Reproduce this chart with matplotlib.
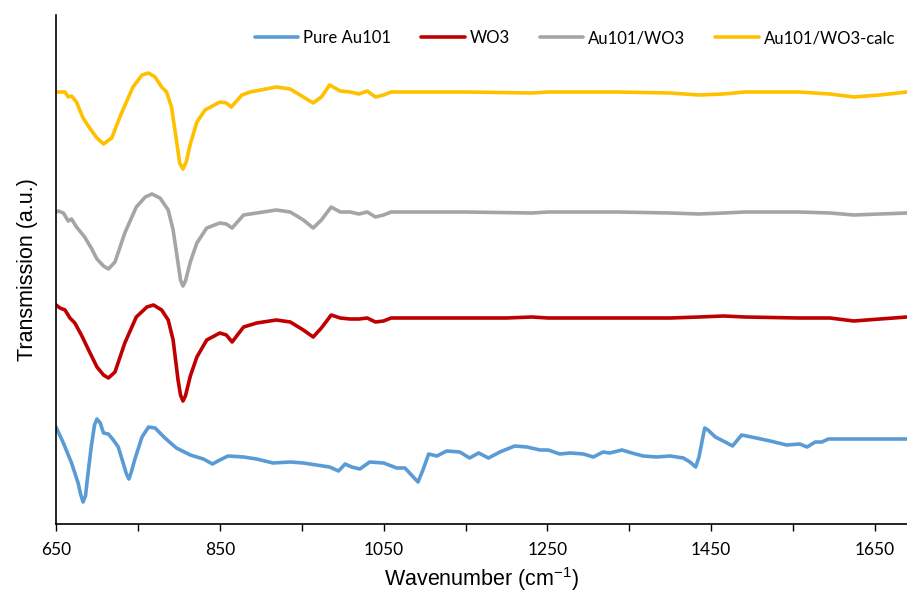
import matplotlib
matplotlib.use("Agg")
import matplotlib.pyplot as plt
import numpy as np

# spectra (wavenumber in cm-1, transmission in a.u., stacked with offsets)
wn_calc = [650, 657, 661, 665, 669, 675, 683, 691, 700, 708, 718, 730, 744, 755, 763, 771, 779, 785,
           791, 797, 801, 805, 809, 814, 822, 832, 850, 858, 864, 877, 887, 919, 936, 952, 964, 974,
           984, 997, 1009, 1020, 1030, 1040, 1050, 1059, 1100, 1150, 1231, 1251, 1335, 1400, 1435,
           1465, 1491, 1557, 1595, 1624, 1656, 1689]
t_calc = [432, 432, 432, 427, 428, 422, 406, 396, 386, 380, 386, 411, 437, 449, 451, 447, 437, 432,
          417, 384, 361, 355, 362, 380, 402, 414, 422, 421, 417, 429, 432, 437, 435, 427, 421, 427,
          439, 433, 432, 430, 433, 427, 429, 432, 432, 432, 431, 432, 432, 431, 429,
          430, 432, 432, 430, 427, 429, 432]

wn_mix = [650, 653, 659, 665, 669, 675, 685, 693, 700, 708, 714, 722, 734, 748, 759, 767, 777, 787,
          793, 799, 802, 805, 808, 814, 822, 834, 850, 858, 865, 879, 895, 919, 936, 952, 964, 974,
          986, 997, 1009, 1020, 1030, 1040, 1050, 1059, 1100, 1150, 1231, 1251, 1335, 1400, 1435,
          1465, 1491, 1557, 1595, 1624, 1656, 1689]
t_mix = [312, 313, 311, 303, 305, 297, 287, 276, 265, 258, 255, 262, 291, 317, 327, 330, 326, 314,
         294, 261, 244, 238, 243, 262, 281, 296, 301, 300, 296, 309, 311, 314, 312, 304, 296, 304,
         317, 312, 312, 310, 312, 307, 309, 312, 312, 312, 311, 312, 312, 311, 310,
         311, 312, 312, 311, 309, 310, 311]

wn_wo3 = [650, 655, 661, 667, 673, 681, 691, 700, 708, 714, 722, 734, 748, 761, 769, 779, 787, 793,
          799, 802, 805, 808, 814, 822, 834, 850, 858, 865, 879, 895, 919, 936, 952, 964, 974, 986,
          997, 1009, 1020, 1030, 1040, 1050, 1059, 1100, 1150, 1200, 1231, 1251, 1300, 1335, 1400,
          1435, 1465, 1491, 1557, 1595, 1624, 1656, 1689]
t_wo3 = [219, 216, 214, 206, 201, 189, 172, 157, 149, 146, 152, 181, 207, 217, 219, 214, 204, 184,
         144, 129, 123, 128, 148, 167, 184, 191, 189, 182, 197, 201, 204, 202, 194, 187, 196, 209,
         206, 205, 205, 206, 202, 203, 206, 206, 206, 206, 207, 206, 206, 206, 206,
         207, 208, 207, 206, 206, 203, 205, 207]

wn_au = [650, 659, 669, 677, 680, 683, 686, 689, 693, 697, 700, 704, 708, 714, 720, 726, 732, 736,
         739, 742, 746, 755, 763, 771, 783, 797, 814, 830, 841, 850, 860, 879, 895, 915, 936, 952,
         968, 984, 995, 1003, 1011, 1021, 1033, 1050, 1066, 1076, 1084, 1092, 1098, 1105, 1115,
         1127, 1143, 1155, 1166, 1178, 1192, 1210, 1225, 1241, 1251, 1265, 1278, 1294, 1306, 1318,
         1326, 1341, 1353, 1367, 1383, 1400, 1416, 1424, 1431, 1435, 1442, 1446, 1455, 1467, 1476,
         1487, 1505, 1522, 1542, 1558, 1567, 1577, 1585, 1593, 1620, 1689]
t_au = [97, 81, 61, 41, 30, 22, 28, 50, 77, 99, 105, 101, 91, 90, 84, 77, 61, 50,
        45, 52, 64, 87, 97, 96, 86, 76, 69, 65, 60, 64, 68, 67, 65, 61, 62, 61,
        59, 57, 53, 60, 57, 55, 62, 61, 56, 56, 49, 42, 54, 70, 68,
        73, 72, 66, 71, 66, 72, 78, 77, 74, 74, 70, 71, 70, 67, 72,
        71, 74, 71, 68, 67, 68, 66, 62, 57, 67, 96, 94, 87, 82, 78,
        89, 86, 83, 79, 80, 77, 82, 82, 85, 85, 85]

series = [
    ("Pure Au101", wn_au, t_au, "#5B9BD5"),
    ("WO3", wn_wo3, t_wo3, "#C00000"),
    ("Au101/WO3", wn_mix, t_mix, "#A5A5A5"),
    ("Au101/WO3-calc", wn_calc, t_calc, "#FFC000"),
]

plt.rcParams["mathtext.fontset"] = "custom"
plt.rcParams["mathtext.rm"] = "Liberation Sans"

fig = plt.figure(figsize=(9.07, 5.94), dpi=100)
ax = fig.add_axes([56 / 907, 70 / 594, 851 / 907, 509 / 594])

for name, x, y, c in series:
    ax.plot(x, y, color=c, lw=2.6, label=name, solid_joinstyle="round", solid_capstyle="round")

ax.set_xlim(650, 1689)
ax.set_ylim(0, 509)
ax.set_xticks(np.arange(650, 1690, 200))
ax.set_xticks(np.arange(750, 1690, 200), minor=True)
ax.tick_params(axis="x", which="both", direction="out", length=5, width=1, color="#000000")
ax.tick_params(axis="x", which="major", pad=8, labelsize=12.5)
for lab in ax.get_xticklabels():
    lab.set_fontfamily("Lato")
ax.set_yticks([])
for s in ["top", "right"]:
    ax.spines[s].set_visible(False)
for s in ["left", "bottom"]:
    ax.spines[s].set_linewidth(1.2)
    ax.spines[s].set_color("#000000")

ax.set_xlabel(r"Wavenumber (cm$^{-1}$)", fontsize=15.5, family="Liberation Sans", labelpad=5)
ax.set_ylabel("Transmission (a.u.)", fontsize=15.5, family="Liberation Sans", labelpad=13)

ax.legend(loc="center right", bbox_to_anchor=(895 / 907, 1 - 38 / 594), bbox_transform=fig.transFigure,
          ncol=4, frameon=False, prop={"family": "Lato", "size": 12}, handlelength=2.6,
          handletextpad=0.3, columnspacing=1.8, borderpad=0, borderaxespad=0)

fig.savefig("out.png", dpi=100)
